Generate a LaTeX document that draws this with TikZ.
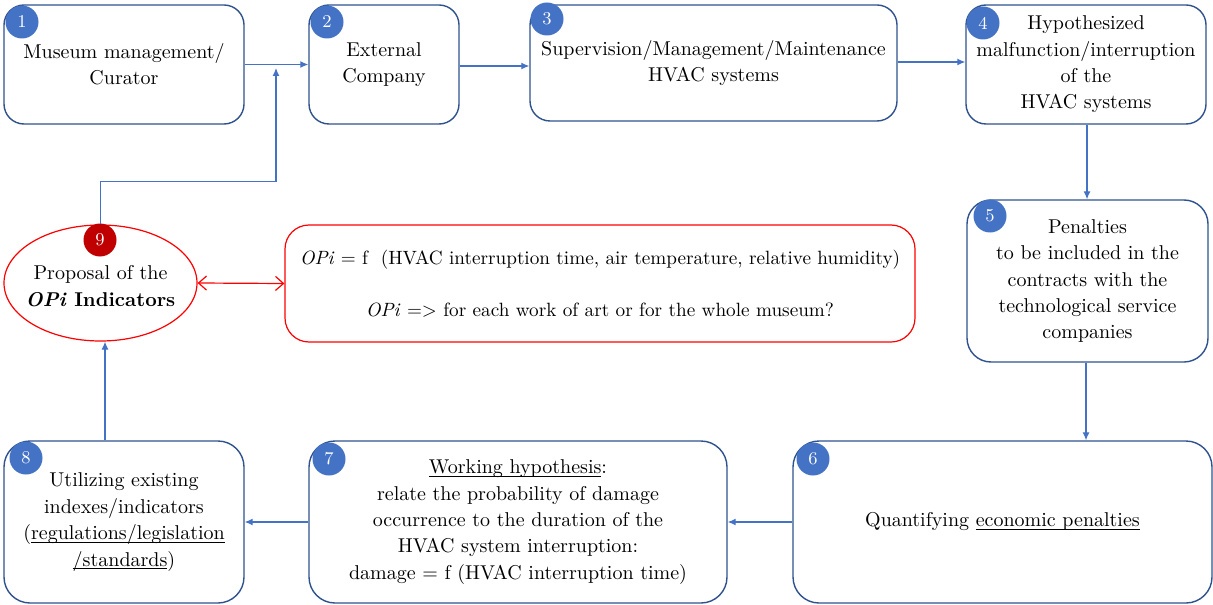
\documentclass[tikz,border=0pt]{standalone}
\usepackage{tikz}
\usetikzlibrary{arrows.meta, positioning, shapes.geometric}
\definecolor{step-edge}{RGB}{47,82,143}
\definecolor{step-blue}{RGB}{68,114,196}
\definecolor{step-red}{RGB}{192,0,0}
\definecolor{opi-red}{RGB}{255,0,0}
\newcommand{\ulined}[1]{\underline{\smash{#1}}\vphantom{#1}}

\begin{document}
\begin{tikzpicture}[
    x=0.5pt, y=-0.5pt,
    every node/.style={font=\fontsize{10}{13.2}\selectfont},
    stepbox/.style={rectangle, draw=step-edge, line width=0.7pt,
                    rounded corners=10pt, fill=white, align=center,
                    inner sep=0pt},
    badge/.style={circle, fill=step-blue, text=white, inner sep=0pt,
                  minimum size=16.5pt, font=\fontsize{9}{10}\selectfont},
    flow/.style={draw=step-blue, line width=0.6pt,
                 -{Latex[length=4pt, width=3.5pt]}},
    link/.style={draw=opi-red, line width=0.6pt,
                 {Straight Barb[length=4pt, width=7pt]}-{Straight Barb[length=4pt, width=7pt]}},
  ]
    \useasboundingbox (0,0) rectangle (1213,604);

    % upper row
    \node[stepbox, minimum width=120pt, minimum height=59.5pt] (b1) at (124,64.5)
      {Museum management/\\Curator};
    \node[stepbox, minimum width=75pt, minimum height=59.5pt] (b2) at (384,64.5)
      {External\\Company};
    \node[stepbox, minimum width=183.5pt, minimum height=58pt] (b3) at (713.5,63)
      {Supervision/Management/Maintenance\\HVAC systems};
    \node[stepbox, minimum width=120pt, minimum height=59.5pt] (b4) at (1086,64.5)
      {Hypothesized\\malfunction/interruption\\of the\\HVAC systems};

    % right column
    \node[stepbox, rounded corners=12pt, minimum width=120.5pt, minimum height=81pt] (b5) at (1087.5,281)
      {Penalties\\to be included in the\\contracts with the\\technological service\\companies};

    % lower row
    \node[stepbox, rounded corners=13pt, minimum width=209.5pt, minimum height=81pt] (b6) at (1002.5,522)
      {Quantifying \ulined{economic penalties}};
    \node[stepbox, rounded corners=13pt, minimum width=209pt, minimum height=81pt] (b7) at (518,522)
      {\ulined{Working hypothesis}:\\relate the probability of damage\\occurrence to the duration of the\\HVAC system interruption:\\damage = f (HVAC interruption time)};
    \node[stepbox, rounded corners=13pt, minimum width=120pt, minimum height=81pt] (b8) at (124,522)
      {Utilizing existing\\indexes/indicators\\(\ulined{regulations/legislation}\\\ulined{/standards})};

    % indicators
    \node[ellipse, draw=opi-red, line width=0.6pt, fill=white, inner sep=0pt,
          minimum width=96.5pt, minimum height=58pt] (e9) at (100.5,283) {};
    \node[align=center] (e9text) at (100.5,286)
      {Proposal of the\\\textbf{\textit{OPi} Indicators}};
    \node[rectangle, draw=opi-red, line width=0.6pt, rounded corners=12pt,
          inner sep=0pt, minimum width=315pt, minimum height=58.5pt, align=center,
          font=\fontsize{9.6}{12}\selectfont] (opi) at (600,283.5)
      {\textit{OPi} = f\ \ (HVAC interruption time, air temperature, relative humidity)\\[14pt]
       \textit{OPi} => for each work of art or for the whole museum?};

    % numbers
    \node[badge] at (22,22) {1};
    \node[badge] at (327,22) {2};
    \node[badge] at (547,19) {3};
    \node[badge] at (983,23) {4};
    \node[badge] at (990,216) {5};
    \node[badge] at (813,459) {6};
    \node[badge] at (329,459) {7};
    \node[badge] at (26,458) {8};
    \node[badge, fill=step-red] at (100,240) {9};

    % connectors
    \coordinate (join) at (276,68);
    \draw[flow] (b1.east) -- (b2.west);
    \draw[flow] (e9.north) -- ++(0,-43) -| (join);
    \draw[flow] (b2.east |- 0,66) -- (b3.west |- 0,66);
    \draw[flow] (b3.east |- 0,62) -- (b4.west |- 0,62);
    \draw[flow] (b4.south -| 1087,0) -- (b5.north -| 1087,0);
    \draw[flow] (b5.south -| 1086,0) -- (b6.north -| 1086,0);
    \draw[flow] (b6.west) -- (b7.east);
    \draw[flow] (b7.west) -- (b8.east);
    \draw[flow] (b8.north -| 105,0) -- (e9.south -| 105,0);
    \draw[link] (e9.east) -- (opi.west);
  \end{tikzpicture}
\end{document}
